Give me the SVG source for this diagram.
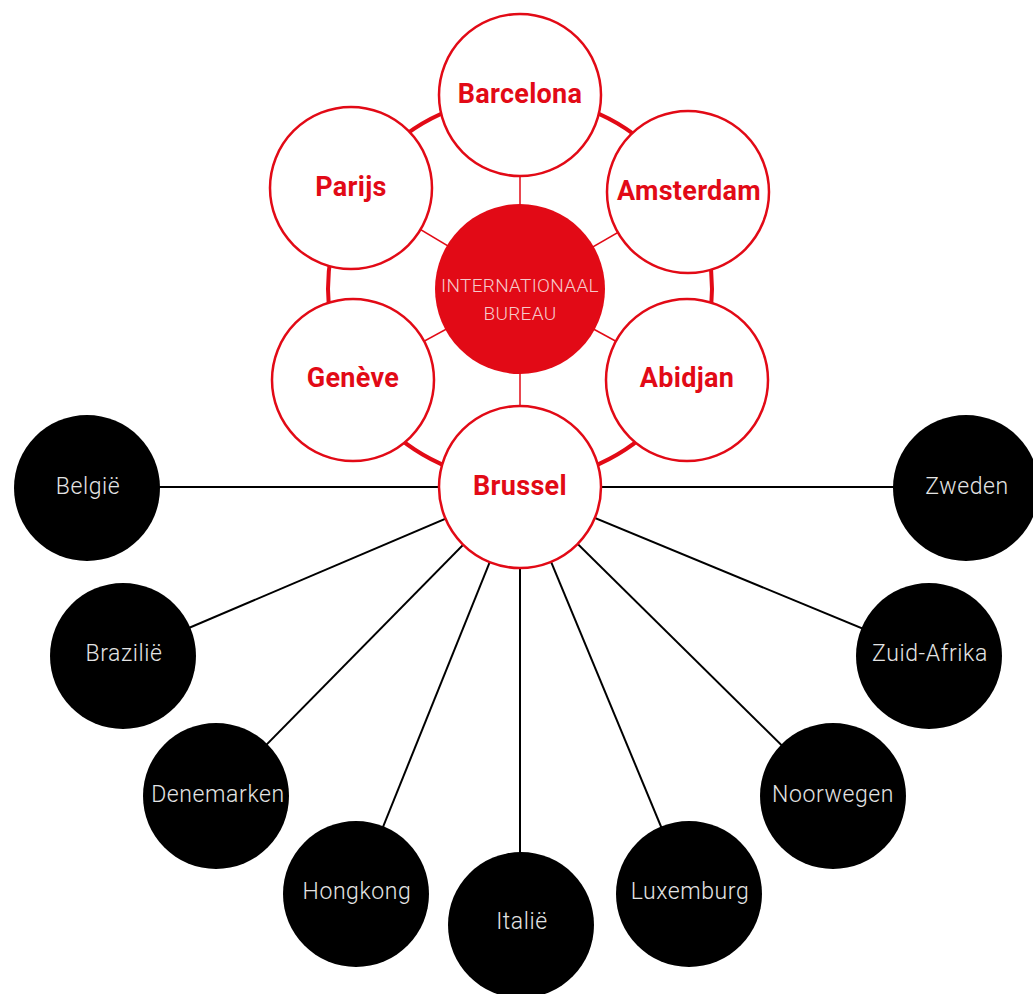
<svg xmlns="http://www.w3.org/2000/svg" width="1033" height="994" viewBox="0 0 1033 994">
<style>
.ring{fill:none;stroke:#e20a16;stroke-width:4}
.spoke{stroke:#e20a16;stroke-width:1.5}
.link{stroke:#000;stroke-width:2}
.city{fill:#fff;stroke:#e20a16;stroke-width:2.5}
.country{fill:#000}
.ct{font-family:Roboto,"Liberation Sans",sans-serif;font-weight:bold;font-size:27px;fill:#e20a16;text-anchor:middle;letter-spacing:0.3px}
.nt{font-family:Roboto,"Liberation Sans",sans-serif;font-weight:300;font-size:23px;fill:#e4e4e4;text-anchor:middle;letter-spacing:0.6px}
.hub{fill:#e20a16}
.ht{font-family:Roboto,"Liberation Sans",sans-serif;font-weight:300;font-size:19px;fill:#f6c9cb;text-anchor:middle;letter-spacing:0.3px}
</style>
<g id="connectors">
<circle class="ring" cx="520" cy="289" r="192"/>
<line class="spoke" x1="520" y1="289" x2="520" y2="95"/>
<line class="spoke" x1="520" y1="289" x2="351" y2="188"/>
<line class="spoke" x1="520" y1="289" x2="688" y2="192"/>
<line class="spoke" x1="520" y1="289" x2="353" y2="380"/>
<line class="spoke" x1="520" y1="289" x2="687" y2="380"/>
<line class="spoke" x1="520" y1="289" x2="520" y2="487"/>
<line class="link" x1="520" y1="487" x2="87" y2="487"/>
<line class="link" x1="520" y1="487" x2="123" y2="656"/>
<line class="link" x1="520" y1="487" x2="216" y2="796"/>
<line class="link" x1="520" y1="487" x2="356" y2="894"/>
<line class="link" x1="520" y1="487" x2="520" y2="925"/>
<line class="link" x1="520" y1="487" x2="689" y2="894"/>
<line class="link" x1="520" y1="487" x2="833" y2="796"/>
<line class="link" x1="520" y1="487" x2="929" y2="656"/>
<line class="link" x1="520" y1="487" x2="966" y2="487"/>
</g>
<g id="hub"><circle class="hub" cx="520" cy="289" r="85"/><text class="ht" x="520" y="292">INTERNATIONAAL</text><text class="ht" x="520" y="320">BUREAU</text></g>
<g id="barcelona"><circle class="city" cx="520" cy="95" r="81"/><text class="ct" x="520" y="103">Barcelona</text></g>
<g id="parijs"><circle class="city" cx="351" cy="188" r="81"/><text class="ct" x="351" y="196">Parijs</text></g>
<g id="amsterdam"><circle class="city" cx="688" cy="192" r="81"/><text class="ct" x="689" y="200">Amsterdam</text></g>
<g id="geneve"><circle class="city" cx="353" cy="380" r="81"/><text class="ct" x="353" y="387">Genève</text></g>
<g id="abidjan"><circle class="city" cx="687" cy="380" r="81"/><text class="ct" x="687" y="387">Abidjan</text></g>
<g id="brussel"><circle class="city" cx="520" cy="487" r="81"/><text class="ct" x="520" y="495">Brussel</text></g>
<g id="belgie"><circle class="country" cx="87" cy="488" r="73"/><text class="nt" x="88" y="494">België</text></g>
<g id="brazilie"><circle class="country" cx="123" cy="656" r="73"/><text class="nt" x="124" y="661">Brazilië</text></g>
<g id="denemarken"><circle class="country" cx="216" cy="796" r="73"/><text class="nt" x="218" y="802">Denemarken</text></g>
<g id="hongkong"><circle class="country" cx="356" cy="894" r="73"/><text class="nt" x="357" y="899">Hongkong</text></g>
<g id="italie"><circle class="country" cx="521" cy="925" r="73"/><text class="nt" x="522" y="929">Italië</text></g>
<g id="luxemburg"><circle class="country" cx="689" cy="894" r="73"/><text class="nt" x="690" y="899">Luxemburg</text></g>
<g id="noorwegen"><circle class="country" cx="833" cy="796" r="73"/><text class="nt" x="833" y="802">Noorwegen</text></g>
<g id="zuidafrika"><circle class="country" cx="929" cy="656" r="73"/><text class="nt" x="930" y="661">Zuid-Afrika</text></g>
<g id="zweden"><circle class="country" cx="966" cy="488" r="73"/><text class="nt" x="967" y="494">Zweden</text></g>
</svg>
